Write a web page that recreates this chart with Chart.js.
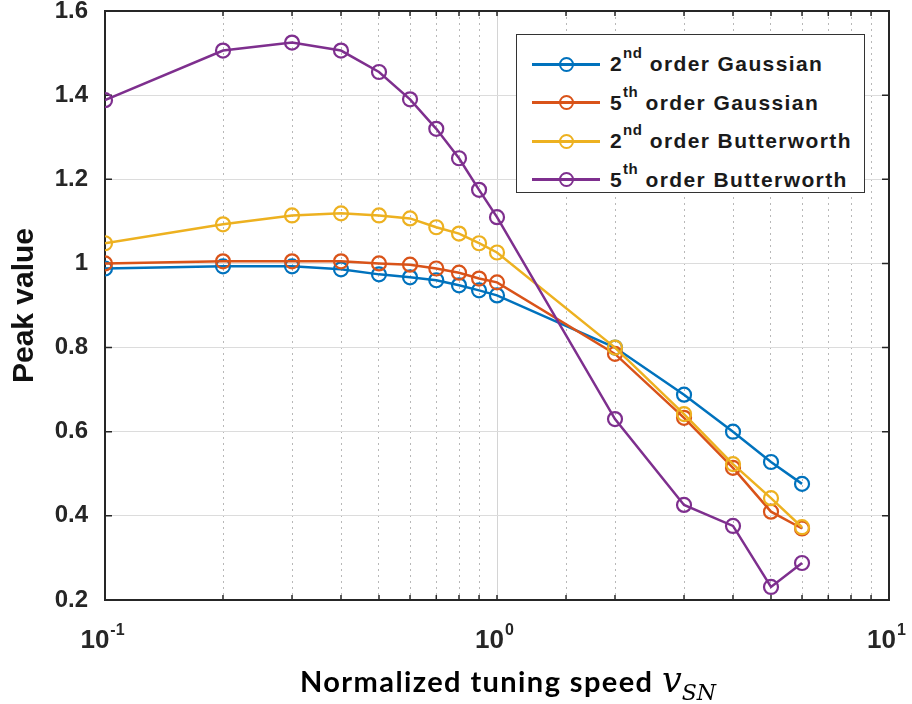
<!DOCTYPE html>
<html><head><meta charset="utf-8">
<script src="https://cdn.jsdelivr.net/npm/chart.js@4.4.0/dist/chart.umd.min.js"></script>
<style>
html,body{margin:0;padding:0;background:#fff;}
#wrap{position:relative;width:912px;height:704px;overflow:hidden;}
#c{position:absolute;left:0;top:0;}
#legend{position:absolute;left:516px;top:34px;width:349px;height:159px;border:1.5px solid #333;background:#fff;box-sizing:border-box;font-family:"Liberation Sans",Arial,sans-serif;font-weight:bold;font-size:21px;letter-spacing:1.4px;color:#1a1a1a;}
.row{position:absolute;left:0;width:100%;height:0;}
.ln{position:absolute;left:15px;width:68px;height:3px;top:-1.5px;}
.mk{position:absolute;left:42px;top:-7.5px;width:15px;height:15px;border:2px solid;border-radius:50%;box-sizing:border-box;background:transparent;}
.lbl{position:absolute;left:93px;top:-13px;white-space:nowrap;line-height:26px;}
.lbl sup{font-size:15px;letter-spacing:0.5px;position:relative;top:-4px;vertical-align:top;line-height:12px;}
#xtitle{position:absolute;left:300px;top:660px;white-space:nowrap;font-family:Lato,"Open Sans",sans-serif;font-weight:bold;font-size:29px;letter-spacing:1.4px;color:#000;line-height:40px;}
#xtitle .v{font-family:"DejaVu Serif","Liberation Serif",serif;font-style:italic;font-weight:normal;font-size:35px;letter-spacing:0;}
#xtitle .sn{font-family:"DejaVu Serif","Liberation Serif",serif;font-style:italic;font-weight:normal;font-size:22px;letter-spacing:0;position:relative;top:8px;}
</style>
</head><body>
<div id="wrap">
<canvas id="c" width="912" height="704"></canvas>
<div id="legend"></div>
<div id="xtitle">Normalized tuning speed <span class="v">v</span><span class="sn">SN</span></div>
</div>
<script>
// ---- data ----
const speeds = [0.1, 0.2, 0.3, 0.4, 0.5, 0.6, 0.7, 0.8, 0.9, 1.0, 2, 3, 4, 5, 6];
const gauss2 = [0.988, 0.993, 0.993, 0.986, 0.974, 0.967, 0.960, 0.948, 0.936, 0.924, 0.800, 0.688, 0.600, 0.528, 0.476];
const gauss5 = [1.000, 1.005, 1.005, 1.005, 1.000, 0.997, 0.988, 0.978, 0.964, 0.955, 0.785, 0.633, 0.514, 0.410, 0.370];
const butter2 = [1.048, 1.093, 1.114, 1.119, 1.114, 1.107, 1.086, 1.071, 1.048, 1.026, 0.800, 0.642, 0.523, 0.442, 0.373];
const butter5 = [1.388, 1.506, 1.525, 1.506, 1.455, 1.390, 1.320, 1.250, 1.175, 1.110, 0.630, 0.426, 0.376, 0.231, 0.288];
const orderNums = ['2', '5', '2', '5'];
const orderSuffix = ['nd', 'th', 'nd', 'th'];
const filterNames = ['Gaussian', 'Gaussian', 'Butterworth', 'Butterworth'];
const seriesColors = ['#0072BD', '#D95319', '#EDB120', '#7E2F8E'];
const yTickValues = [0.2, 0.4, 0.6, 0.8, 1.0, 1.2, 1.4, 1.6];
const xTickValues = [0.1, 1, 10];
const xTickExponents = ['-1', '0', '1'];
const yTitle = 'Peak value';

const seriesValues = [gauss2, gauss5, butter2, butter5];
const datasets = seriesValues.map((vals, i) => ({
  label: orderNums[i] + orderSuffix[i] + ' order ' + filterNames[i],
  data: speeds.map((s, j) => ({x: s, y: vals[j]})),
  borderColor: seriesColors[i],
  backgroundColor: 'rgba(0,0,0,0)',
  pointBackgroundColor: 'rgba(0,0,0,0)',
  pointBorderColor: seriesColors[i],
  borderWidth: 2.5,
  pointRadius: 7,
  pointBorderWidth: 2.2,
  tension: 0,
  order: 3 - i
}));

// legend (HTML, so superscripts are real text)
const lg = document.getElementById('legend');
datasets.forEach((d, i) => {
  const row = document.createElement('div');
  row.className = 'row';
  row.style.top = (29 + i * 38.5) + 'px';
  row.innerHTML = '<div class="ln" style="background:' + seriesColors[i] + '"></div>' +
    '<div class="mk" style="border-color:' + seriesColors[i] + '"></div>' +
    '<div class="lbl">' + orderNums[i] + '<sup>' + orderSuffix[i] + '</sup> order ' + filterNames[i] + '</div>';
  lg.appendChild(row);
});

const TICK_FONT = '"Liberation Sans", Arial, sans-serif';

const framePlugin = {
  id: 'frame',
  beforeDatasetsDraw(chart) {
    const {ctx, chartArea: a} = chart;
    const xs = chart.scales.x, ys = chart.scales.y;
    ctx.save();
    ctx.strokeStyle = '#262626';
    ctx.lineWidth = 1.5;
    ctx.beginPath();
    xs.ticks.forEach(t => {
      const px = xs.getPixelForValue(t.value);
      ctx.moveTo(px, a.bottom); ctx.lineTo(px, a.bottom - 5);
      ctx.moveTo(px, a.top); ctx.lineTo(px, a.top + 5);
    });
    ys.ticks.forEach(t => {
      const py = ys.getPixelForValue(t.value);
      ctx.moveTo(a.left, py); ctx.lineTo(a.left + 7, py);
      ctx.moveTo(a.right, py); ctx.lineTo(a.right - 7, py);
    });
    ctx.stroke();
    ctx.lineWidth = 2;
    ctx.strokeRect(a.left, a.top, a.right - a.left, a.bottom - a.top);
    ctx.restore();
  },
  afterDraw(chart) {
    const {ctx} = chart;
    const xs = chart.scales.x;
    ctx.save();
    ctx.fillStyle = '#262626';
    ctx.textBaseline = 'alphabetic';
    ctx.textAlign = 'left';
    xTickValues.forEach((v, i) => {
      const px = xs.getPixelForValue(v);
      ctx.font = 'bold 26px ' + TICK_FONT;
      const w1 = ctx.measureText('10').width;
      ctx.font = 'bold 16px ' + TICK_FONT;
      const w2 = ctx.measureText(xTickExponents[i]).width;
      const start = px - (w1 + w2) / 2 - 3;
      ctx.font = 'bold 26px ' + TICK_FONT;
      ctx.fillText('10', start, 648);
      ctx.font = 'bold 16px ' + TICK_FONT;
      ctx.fillText(xTickExponents[i], start + w1 + 1, 635);
    });
    ctx.restore();
  }
};

new Chart(document.getElementById('c'), {
  type: 'line',
  data: {datasets},
  plugins: [framePlugin],
  options: {
    responsive: false,
    animation: false,
    layout: {padding: {top: 11, right: 23, left: 0, bottom: 0}},
    plugins: {legend: {display: false}, tooltip: {enabled: false}},
    scales: {
      x: {
        type: 'logarithmic',
        min: 0.1, max: 10,
        afterFit: s => { s.height = 104; s.paddingLeft = 0; s.paddingRight = 0; },
        ticks: {display: false},
        border: {display: false, dash: ctx => (ctx.tick && Math.abs(Math.log10(ctx.tick.value) - Math.round(Math.log10(ctx.tick.value))) < 1e-6) ? [] : [2, 4]},
        grid: {
          drawTicks: false,
          lineWidth: 1,
          color: ctx => {
            const v = ctx.tick ? ctx.tick.value : 0;
            const lg10 = Math.log10(v);
            return Math.abs(lg10 - Math.round(lg10)) < 1e-6 ? '#d4d4d4' : '#b8b8b8';
          }
        }
      },
      y: {
        min: 0.2, max: 1.6,
        afterFit: s => { s.width = 105; s.paddingTop = 0; s.paddingBottom = 0; },
        afterBuildTicks: s => { s.ticks = yTickValues.map(v => ({value: v})); },
        ticks: {
          padding: 17,
          color: '#262626',
          font: {family: TICK_FONT, weight: 'bold', size: 24},
          callback: v => String(Math.round(v * 10) / 10)
        },
        border: {display: false},
        grid: {drawTicks: false, color: '#dcdcdc', lineWidth: 1},
        title: {
          display: true,
          text: yTitle,
          color: '#111',
          padding: {top: 7, bottom: 0},
          font: {family: TICK_FONT, weight: 'bold', size: 30}
        }
      }
    }
  }
});
</script>
</body></html>
